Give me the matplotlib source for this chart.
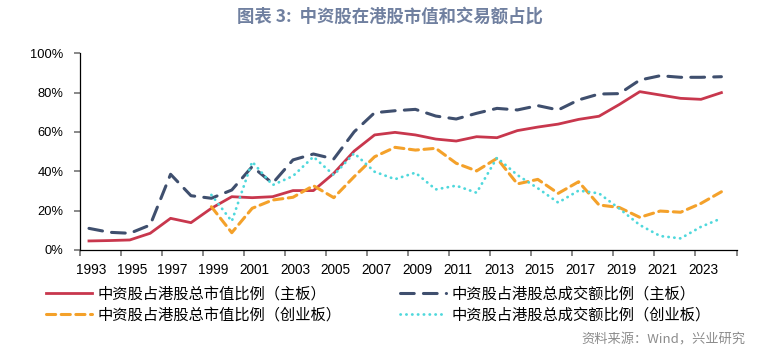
import matplotlib
matplotlib.use("Agg")
import matplotlib.pyplot as plt
import numpy as np

plt.rcParams['font.family'] = ['Noto Sans CJK SC', 'DejaVu Sans']

# --- Data (%) ---
years = list(range(1993, 2025))
tick_years = list(range(1993, 2024, 2))

main_mktcap = [4.6, 4.8, 5.1, 8.5, 16.1, 13.9, 21.2, 27.1, 26.6, 27.1, 30.2, 30.2,
               39.0, 50.3, 58.5, 59.8, 58.5, 56.4, 55.4, 57.6, 57.1, 60.7, 62.5, 64.0,
               66.4, 68.0, 74.0, 80.5, 78.8, 77.1, 76.6, 80.0]
main_turnover = [11.0, 9.0, 8.5, 12.7, 38.5, 27.6, 26.3, 30.5, 42.4, 33.9, 45.8, 48.8,
                 46.3, 60.1, 69.8, 70.8, 71.5, 68.1, 66.6, 69.5, 72.0, 71.2, 73.4, 71.2,
                 76.3, 79.3, 79.5, 86.4, 88.6, 87.8, 87.8, 88.1]
gem_mktcap = [None] * 6 + [22.0, 8.8, 21.2, 25.4, 26.8, 32.7, 26.6, 37.3, 47.4, 52.2,
                           50.8, 51.7, 44.1, 40.2, 46.6, 33.6, 35.9, 28.8, 34.7, 22.9,
                           21.6, 16.6, 19.8, 19.2, 23.7, 29.6]
gem_turnover = [None] * 6 + [28.0, 14.6, 44.9, 33.0, 37.6, 47.4, 38.1, 49.2, 39.8, 36.0,
                             39.3, 30.8, 32.7, 29.1, 46.9, 38.1, 31.4, 24.1, 30.2, 28.8,
                             21.0, 12.7, 7.1, 5.9, 11.8, 16.1]

labels = ["中资股占港股总市值比例（主板）", "中资股占港股总市值比例（创业板）",
          "中资股占港股总成交额比例（主板）", "中资股占港股总成交额比例（创业板）"]

title = "图表 3:  中资股在港股市值和交易额占比"
source = "资料来源：Wind，兴业研究"

x = np.arange(len(years))


def to_arr(v):
    return np.array([np.nan if a is None else a for a in v], dtype=float)


fig = plt.figure(figsize=(7.76, 3.5), dpi=100)
ax = fig.add_axes([80 / 776, 1 - 250 / 350, 656.5 / 776, 196.7 / 350])

red, = ax.plot(x, to_arr(main_mktcap), color='#C8374D', lw=2.0,
               solid_joinstyle='round', label=labels[0])
blue, = ax.plot(x, to_arr(main_turnover), color='#3F4F6E', lw=2.2,
                linestyle=(0, (4.5, 3)), dash_capstyle='round', label=labels[2])
orange, = ax.plot(x, to_arr(gem_mktcap), color='#F4A12A', lw=2.2,
                  linestyle=(0, (3, 1.8)), dash_capstyle='round', label=labels[1])
cyan, = ax.plot(x, to_arr(gem_turnover), color='#4FD8DC', lw=2.0,
                linestyle=(0, (0.1, 2.0)), dash_capstyle='round', label=labels[3])

# axes limits / ticks
ax.set_xlim(-0.44, 31.74)
ax.set_ylim(0, 100)

ax.set_xticks(np.linspace(-0.44, 31.74, 17), minor=True)
ax.set_xticks([years.index(y) + 0.1 for y in tick_years])
ax.set_xticklabels([str(y) for y in tick_years], family='Liberation Sans', fontsize=9.8)
ax.tick_params(axis='x', which='major', length=0, pad=9)
ax.tick_params(axis='x', which='minor', length=4, width=1.3, color='#7f7f7f', direction='out')

ax.set_yticks(np.arange(0, 101, 20))
ax.set_yticklabels([f"{v}%" for v in range(0, 101, 20)], family='Liberation Sans', fontsize=9.3)
ax.tick_params(axis='y', length=4, width=1.3, color='#7f7f7f', direction='out', pad=8)

for s in ['top', 'right']:
    ax.spines[s].set_visible(False)
for s in ['left', 'bottom']:
    ax.spines[s].set_color('black')
    ax.spines[s].set_linewidth(0.9)

# title and source
fig.text(0.503, 1 - 17 / 350, title, ha='center', va='center',
         fontsize=12.5, fontweight='bold', color='#7080A0')
fig.text(745 / 776, 1 - 340 / 350, source, ha='right', va='center',
         fontsize=9.5, color='#8C8C8C')

leg = fig.legend(handles=[red, orange, blue, cyan], ncol=2, frameon=False,
                 loc='center left', bbox_to_anchor=(46 / 776, 1 - 304.5 / 350),
                 fontsize=11, handlelength=3.0, handletextpad=0.4,
                 columnspacing=3.8, labelspacing=0.25, borderpad=0, borderaxespad=0)

fig.savefig("out.png", dpi=100)
